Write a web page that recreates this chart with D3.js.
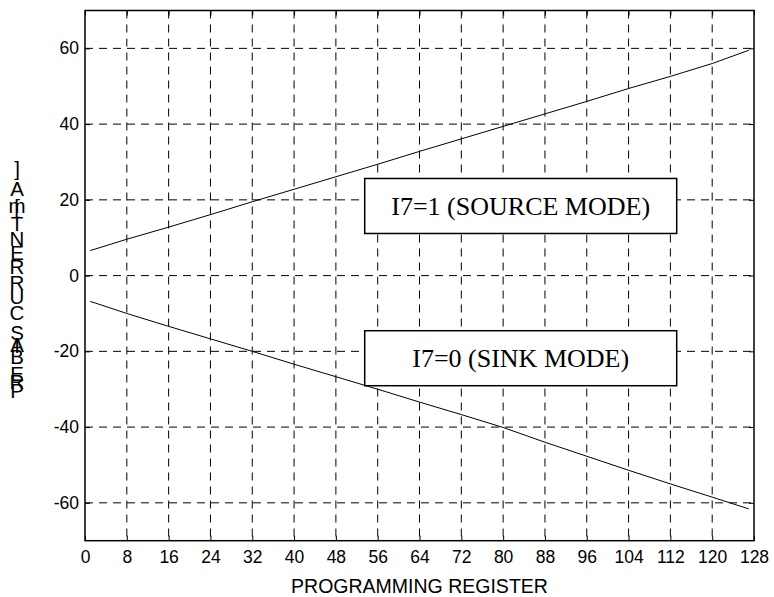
<!DOCTYPE html>
<html>
<head>
<meta charset="utf-8">
<script src="https://cdn.jsdelivr.net/npm/d3@7"></script>
<style>
  body { margin: 0; background: #fff; }
  svg { display: block; }
  .tick text { font-family: "Liberation Sans", Arial, sans-serif; font-size: 17.5px; fill: #000; }
  .label { font-family: "Liberation Sans", Arial, sans-serif; font-size: 19.5px; fill: #000; }
  .box-text { font-family: "Liberation Serif", "Times New Roman", serif; font-size: 26px; fill: #000; }
</style>
</head>
<body>
<script>
// register values (x) and current readings
var register = [1, 8, 16, 24, 32, 40, 48, 56, 64, 72, 80, 88, 96, 104, 112, 120, 127]
var sourceCurrent = [6.6, 9.6, 12.8, 16.1, 19.5, 22.8, 26.1, 29.4, 32.8, 36.1, 39.4, 42.7, 46, 49.4, 52.6, 56, 59.5]
var sinkCurrent = [-6.8, -10, -13.4, -16.7, -20, -23.4, -26.7, -30, -33.4, -36.7, -40.1, -44, -47.7, -51.4, -55, -58.5, -61.6]

var xTicks = [0, 8, 16, 24, 32, 40, 48, 56, 64, 72, 80, 88, 96, 104, 112, 120, 128]
var yTicks = [-60, -40, -20, 0, 20, 40, 60]

var xTitle = "PROGRAMMING REGISTER"
var yTitle = "PREBIAS CURRENT [mA]"
var boxLabels = ["I7=1 (SOURCE MODE)", "I7=0 (SINK MODE)"]
var boxY = [20.1, -20.1]

var W = 774, H = 597
var pLeft = 85, pRight = 754, pTop = 10.5, pBottom = 540.7

var svg = d3.select("body").append("svg")
  .attr("width", W)
  .attr("height", H)

var x = d3.scaleLinear().domain([0, 128]).range([pLeft, pRight])
var y = d3.scaleLinear().domain([-70, 70]).range([pBottom, pTop])

// grid
svg.selectAll("line.vgrid")
  .data(xTicks.slice(1, -1))
  .enter()
  .append("line")
  .classed("vgrid", true)
  .attr("x1", function(d){ return x(d) })
  .attr("x2", function(d){ return x(d) })
  .attr("y1", pTop)
  .attr("y2", pBottom)
  .attr("stroke", "#000")
  .attr("stroke-dasharray", "8,6")

svg.selectAll("line.hgrid")
  .data(yTicks)
  .enter()
  .append("line")
  .classed("hgrid", true)
  .attr("x1", pLeft)
  .attr("x2", pRight)
  .attr("y1", function(d){ return y(d) })
  .attr("y2", function(d){ return y(d) })
  .attr("stroke", "#000")
  .attr("stroke-dasharray", "8,6")

// plain hyphen minus like the original
var fmt = function(d){ return String(d) }

// axes, ticks point inward
var xAxis = svg.append("g")
  .attr("transform", "translate(0," + pBottom + ")")
  .call(d3.axisBottom(x).tickValues(xTicks).tickFormat(fmt).tickSize(-5).tickPadding(10))
xAxis.select(".domain").remove()

var yAxis = svg.append("g")
  .attr("transform", "translate(" + pLeft + ",0)")
  .call(d3.axisLeft(y).tickValues(yTicks).tickFormat(fmt).tickSize(-5).tickPadding(6))
yAxis.select(".domain").remove()

var topAxis = svg.append("g")
  .attr("transform", "translate(0," + pTop + ")")
  .call(d3.axisTop(x).tickValues(xTicks).tickSize(-5).tickFormat(""))
topAxis.select(".domain").remove()

var rightAxis = svg.append("g")
  .attr("transform", "translate(" + pRight + ",0)")
  .call(d3.axisRight(y).tickValues(yTicks).tickSize(-5).tickFormat(""))
rightAxis.select(".domain").remove()

svg.selectAll(".tick line").attr("stroke", "#000")

// frame
svg.append("rect")
  .attr("x", pLeft)
  .attr("y", pTop)
  .attr("width", pRight - pLeft)
  .attr("height", pBottom - pTop)
  .attr("fill", "none")
  .attr("stroke", "#000")
  .attr("stroke-width", 1.5)

// curves
var line = d3.line()
  .x(function(d){ return x(d[0]) })
  .y(function(d){ return y(d[1]) })

;[sourceCurrent, sinkCurrent].forEach(function(series){
  svg.append("path")
    .datum(register.map(function(r, i){ return [r, series[i]] }))
    .attr("d", line)
    .attr("fill", "none")
    .attr("stroke", "#000")
    .attr("stroke-width", 1)
})

// labelled boxes
boxLabels.forEach(function(t, i){
  var cy = y(boxY[i]) + 6.5
  svg.append("rect")
    .attr("x", 364.7)
    .attr("y", cy - 27.5)
    .attr("width", 312)
    .attr("height", 55)
    .attr("fill", "#fff")
    .attr("stroke", "#000")
    .attr("stroke-width", 1.5)
  svg.append("text")
    .classed("box-text", true)
    .attr("x", 520.7)
    .attr("y", cy + 9)
    .attr("text-anchor", "middle")
    .text(t)
})

// x title
svg.append("text")
  .classed("label", true)
  .attr("x", (pLeft + pRight) / 2)
  .attr("y", 593)
  .attr("text-anchor", "middle")
  .text(xTitle)

// y title: upright glyphs stacked bottom to top
var yPos = [390, 381, 373, 356, 345, 344, 332, 0, 312, 296, 282, 266, 252, 238, 223, 0, 206, 205, 188, 168]
var chars = yTitle.split("")
svg.selectAll("text.ychar")
  .data(chars)
  .enter()
  .append("text")
  .classed("ychar label", true)
  .attr("x", 17)
  .attr("y", function(d, i){ return yPos[i] + 7.5 })
  .attr("text-anchor", "middle")
  .style("font-size", "20.5px")
  .text(function(d){ return d === " " ? "" : d })
</script>
</body>
</html>
